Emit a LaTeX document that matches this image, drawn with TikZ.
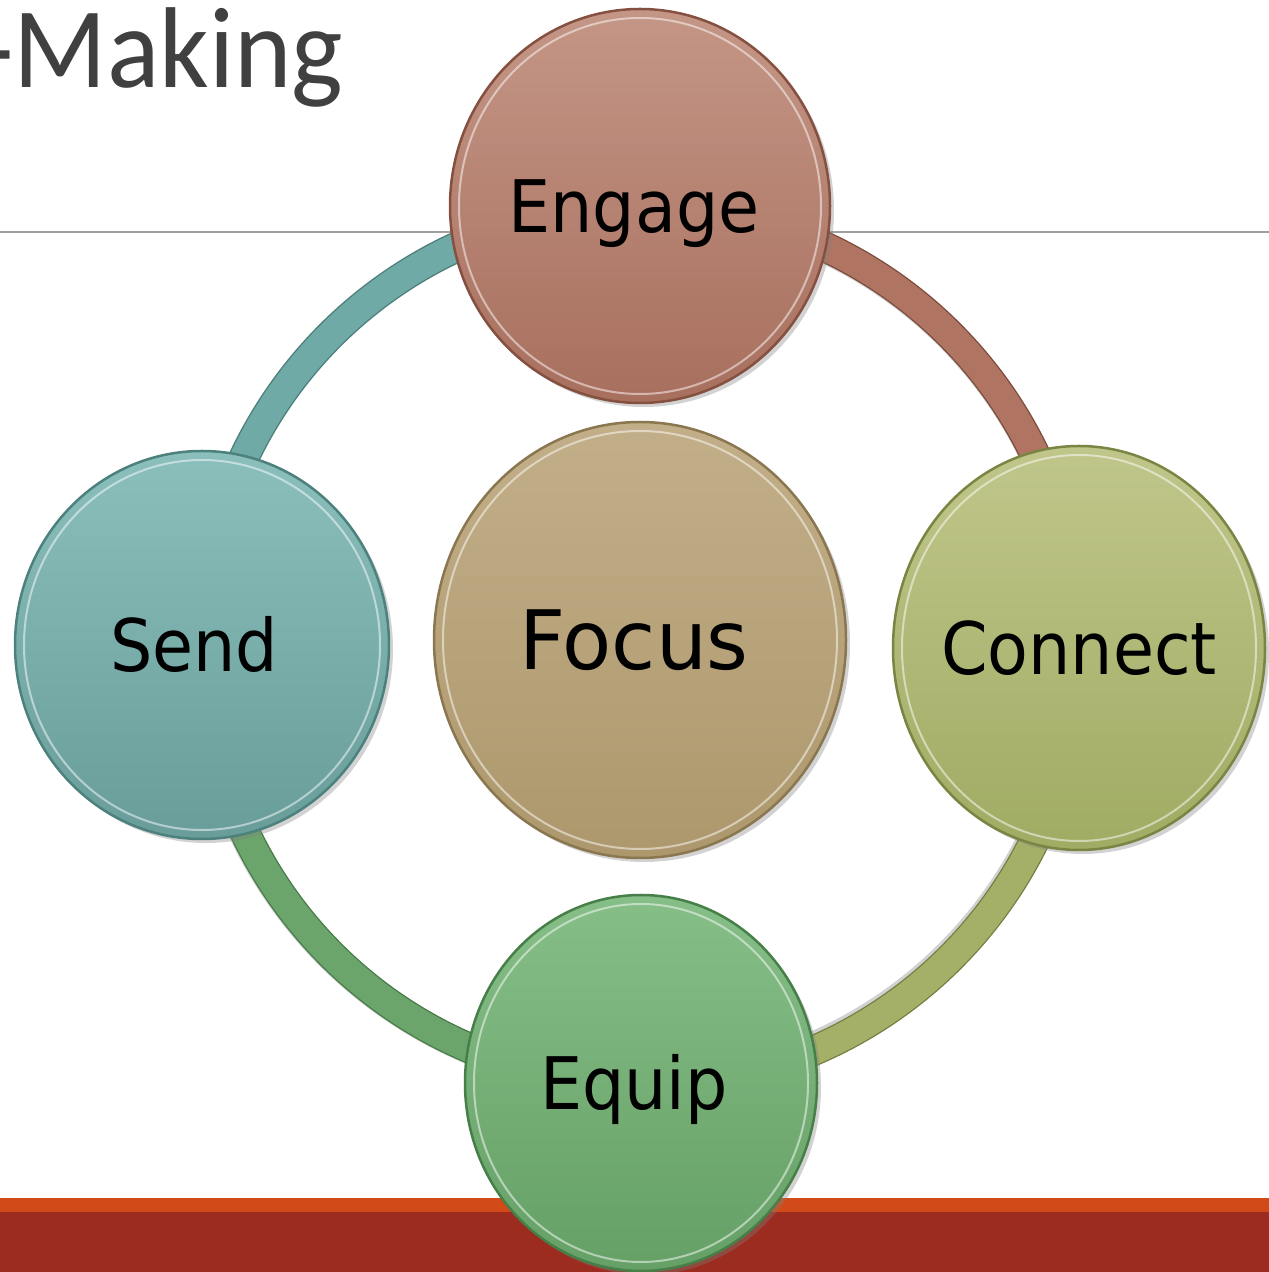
\documentclass[tikz,border=0pt]{standalone}
\usepackage{fontspec}
\setmainfont{DejaVu Sans}
\newfontfamily\titlefont[FakeStretch=0.95]{Carlito}
\newfontfamily\labfont[FakeStretch=0.92]{DejaVu Sans}
\newfontfamily\focfont[FakeStretch=0.98]{DejaVu Sans}
\usetikzlibrary{shapes.geometric,shadows}
\pgfdeclarelayer{back}
\pgfdeclarelayer{ringlayer}
\pgfsetlayers{back,ringlayer,main}
\definecolor{titlegray}{HTML}{404040}
\definecolor{linegray}{HTML}{A0A0A0}
\definecolor{barorange}{HTML}{D24A18}
\definecolor{barred}{HTML}{9B2C1F}
\definecolor{engT}{HTML}{C49686}\definecolor{engB}{HTML}{A86F5E}\definecolor{engR}{HTML}{85503F}
\definecolor{focT}{HTML}{C2AE88}\definecolor{focB}{HTML}{AD986D}\definecolor{focR}{HTML}{8A7750}
\definecolor{senT}{HTML}{8ABFBC}\definecolor{senB}{HTML}{699D9A}\definecolor{senR}{HTML}{4C817E}
\definecolor{conT}{HTML}{C0C68A}\definecolor{conB}{HTML}{A0AB63}\definecolor{conR}{HTML}{7A8543}
\definecolor{equT}{HTML}{86BE87}\definecolor{equB}{HTML}{65A066}\definecolor{equR}{HTML}{467F48}
\definecolor{rTeal}{HTML}{6FAAA6}\definecolor{rTealD}{HTML}{497F7B}
\definecolor{rBrown}{HTML}{B07462}\definecolor{rBrownD}{HTML}{7A4A3B}
\definecolor{rOlive}{HTML}{A4AF68}\definecolor{rOliveD}{HTML}{737E40}
\definecolor{rGreen}{HTML}{6BA56C}\definecolor{rGreenD}{HTML}{467A47}
% label centred, moved sideways by #1
\newcommand{\lbl}[2][0pt]{\makebox[0pt]{\hspace*{#1}\hspace*{#1}#2}}
\begin{document}
\begin{tikzpicture}[x=1pt,y=1pt,
  disc/.style={ellipse, inner sep=0pt, text=black, line width=2.5pt,
    drop shadow={opacity=0.35, shadow xshift=4pt, shadow yshift=-4pt}},
  labA/.style={font=\labfont\fontsize{72.5pt}{80pt}\selectfont, text height=53pt, text depth=0pt},
  labF/.style={font=\focfont\fontsize{82pt}{88pt}\selectfont, text height=60pt, text depth=0pt},
  seg/.style={line width=1.3pt, double distance=28pt},
  segshadow/.style={line width=31pt, black, opacity=0.18},
  shine/.style={white, opacity=0.5, line width=2pt}]
\useasboundingbox (0,0) rectangle (1269,1272);
\begin{pgfonlayer}{back}
\fill[white] (0,0) rectangle (1269,1272);
\node[anchor=base west, inner sep=0pt, text=titlegray,
  font=\titlefont\fontsize{115pt}{120pt}\selectfont] (title) at (-20,1184) {-Making};
\draw[linegray, line width=1.5pt] (0,1040) -- (1269,1040);
\fill[barorange] (0,60) rectangle (1269,74);
\fill[barred] (0,0) rectangle (1269,60);
\end{pgfonlayer}
% circles
\node[disc, labA, minimum width=374pt, minimum height=388pt, top color=senT, bottom color=senB, draw=senR] (send) at (202,627) {\lbl[-8pt]{Send}};
\node[disc, labA, minimum width=380pt, minimum height=394pt, top color=engT, bottom color=engB, draw=engR] (engage) at (640,1066) {\lbl[-6pt]{Engage}};
\node[disc, labA, minimum width=372pt, minimum height=404pt, top color=conT, bottom color=conB, draw=conR] (connect) at (1079,624) {\lbl{Connect}};
\node[disc, labA, minimum width=352pt, minimum height=376pt, top color=equT, bottom color=equB, draw=equR] (equip) at (641,189) {\lbl[-7pt]{Equip}};
\node[disc, labF, minimum width=412pt, minimum height=436pt, top color=focT, bottom color=focB, draw=focR] (focus) at (640,632) {\lbl[-6pt]{Focus}};
% rim highlights
\draw[shine] (send.center) ellipse[x radius=178pt, y radius=185pt];
\draw[shine] (engage.center) ellipse[x radius=181pt, y radius=188pt];
\draw[shine] (connect.center) ellipse[x radius=177pt, y radius=193pt];
\draw[shine] (equip.center) ellipse[x radius=167pt, y radius=179pt];
\draw[shine] (focus.center) ellipse[x radius=197pt, y radius=209pt];
% ring connectors
\begin{pgfonlayer}{ringlayer}
\draw[segshadow, xshift=3pt, yshift=-3pt] (send.center) arc[start angle=180, end angle=-180, radius=438pt];
\draw[seg, draw=rTealD, double=rTeal] (send.center) arc[start angle=180, end angle=90, radius=438pt];
\draw[seg, draw=rBrownD, double=rBrown] (engage.center) arc[start angle=90, end angle=0, radius=438pt];
\draw[seg, draw=rOliveD, double=rOlive] (connect.center) arc[start angle=0, end angle=-90, radius=438pt];
\draw[seg, draw=rGreenD, double=rGreen] (equip.center) arc[start angle=270, end angle=180, radius=438pt];
\end{pgfonlayer}
\end{tikzpicture}
\end{document}
